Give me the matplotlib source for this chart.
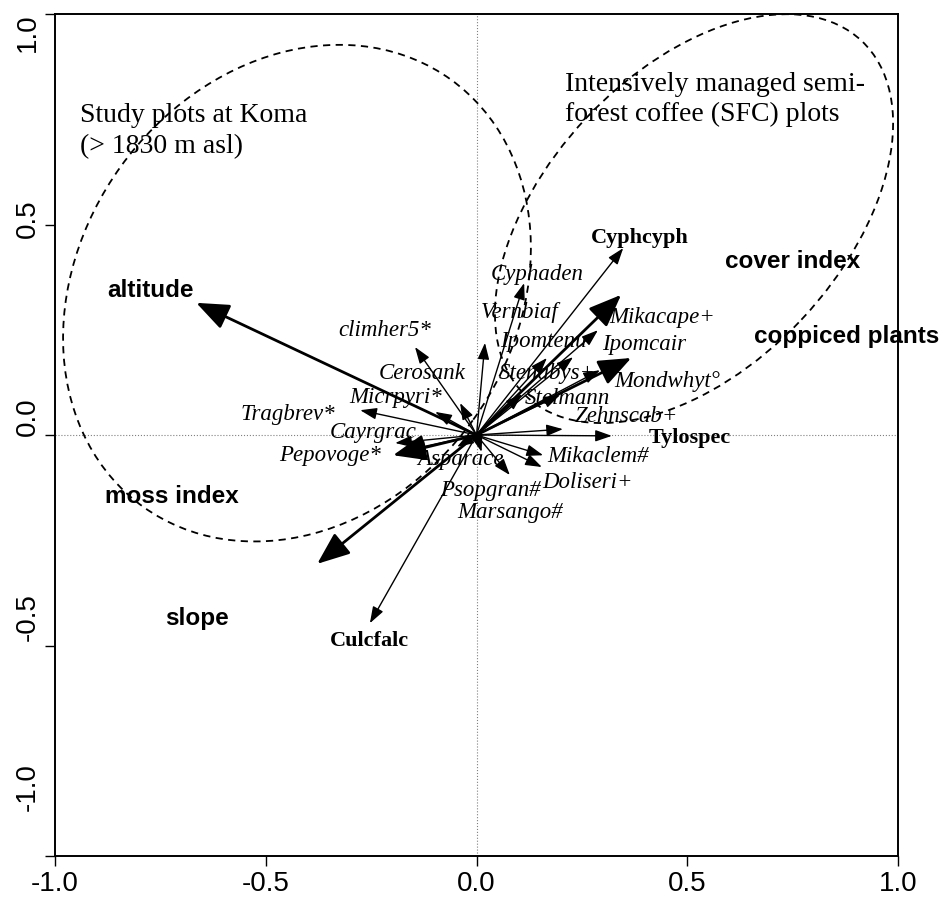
import matplotlib
matplotlib.use("Agg")
import matplotlib.pyplot as plt
from matplotlib.patches import Ellipse
from matplotlib.transforms import ScaledTranslation

# environmental variables: arrow tips and label positions
env_names = ["altitude", "cover index", "coppiced plants", "moss index", "slope"]
env_x = [-0.665, 0.343, 0.367, -0.198, -0.378]
env_y = [0.314, 0.333, 0.183, -0.048, -0.306]
env_lx = [-0.774, 0.751, 0.879, -0.722, -0.663]
env_ly = [0.344, 0.411, 0.233, -0.147, -0.435]

# species: arrow tips, label positions, bold flag
sp_names = ["Cyphcyph", "Cyphaden", "Vernbiaf", "Ipomtenu", "Stenabys+", "Stelmann",
            "Mikacape+", "Ipomcair", "Mondwhyt°", "Zehnscab+", "Tylospec", "Mikaclem#",
            "Doliseri+", "Marsango#", "Psopgran#", "Asparace", "Culcfalc", "climher5*",
            "Cerosank", "Micrpyri*", "Tragbrev*", "Cayrgrac", "Pepovoge*"]
sp_x = [0.348, 0.113, 0.020, 0.167, 0.229, 0.108, 0.288, 0.293, 0.198, 0.205, 0.321, 0.158,
        0.155, 0.079, 0.012, -0.046, -0.253, -0.146, -0.039, -0.098, -0.276, -0.193, -0.160]
sp_y = [0.444, 0.361, 0.219, 0.183, 0.185, 0.097, 0.249, 0.154, 0.095, 0.014, -0.002, -0.048,
        -0.076, -0.095, -0.040, -0.028, -0.447, 0.209, 0.076, 0.055, 0.059, -0.019, -0.035]
sp_lx = [0.388, 0.144, 0.103, 0.158, 0.167, 0.215, 0.440, 0.397, 0.452, 0.355, 0.507, 0.288,
         0.262, 0.079, 0.032, -0.039, -0.253, -0.217, -0.129, -0.193, -0.447, -0.245, -0.347]
sp_ly = [0.468, 0.382, 0.290, 0.221, 0.147, 0.086, 0.280, 0.214, 0.126, 0.043, -0.007, -0.052,
         -0.112, -0.185, -0.131, -0.059, -0.489, 0.249, 0.147, 0.090, 0.048, 0.007, -0.048]
sp_bold = ["Cyphcyph", "Tylospec", "Culcfalc"]

ticks = [-1.0, -0.5, 0.0, 0.5, 1.0]
tick_labels = ["-1.0", "-0.5", "0.0", "0.5", "1.0"]

fig = plt.figure(figsize=(9.44, 8.99), dpi=100)
ax = fig.add_axes([0.0583, 0.0478, 0.8930, 0.9366])
ax.set_xlim(-1, 1)
ax.set_ylim(-1, 1)

ax.axhline(0, color="gray", lw=0.8, ls=":", zorder=0)
ax.axvline(0, color="gray", lw=0.8, ls=":", zorder=0)

# group ellipses
ax.add_patch(Ellipse((-0.426, 0.337), 1.25, 1.03, angle=54.3, fill=False,
                     ls=(0, (4, 3)), lw=1.3, color="black"))
ax.add_patch(Ellipse((0.516, 0.514), 1.16, 0.70, angle=46.7, fill=False,
                     ls=(0, (4, 3)), lw=1.3, color="black"))

ax.text(-0.941, 0.722, "Study plots at Koma\n(> 1830 m asl)", family="Liberation Serif",
        fontsize=20, ha="left", va="center", linespacing=1.35)
ax.text(0.210, 0.797, "Intensively managed semi-\nforest coffee (SFC) plots",
        family="Liberation Serif", fontsize=20, ha="left", va="center", linespacing=1.3)

for n, x, y, lx, ly in zip(sp_names, sp_x, sp_y, sp_lx, sp_ly):
    ax.annotate("", xy=(x, y), xytext=(0, 0),
                arrowprops=dict(arrowstyle="-|>,head_length=1.0,head_width=0.35",
                                lw=1.0, color="black", shrinkA=0, shrinkB=0))
    if n in sp_bold:
        ax.text(lx, ly, n, family="Liberation Serif", fontweight="bold", fontsize=16,
                ha="center", va="center")
    else:
        ax.text(lx, ly, n, family="Liberation Serif", style="italic", fontsize=16.5,
                ha="center", va="center")

for n, x, y, lx, ly in zip(env_names, env_x, env_y, env_lx, env_ly):
    ax.annotate("", xy=(x, y), xytext=(0, 0),
                arrowprops=dict(arrowstyle="-|>,head_length=1.0,head_width=0.4",
                                lw=2.0, color="black", shrinkA=0, shrinkB=0,
                                mutation_scale=20))
    ax.text(lx, ly, n, family="Liberation Sans", fontweight="bold", fontsize=17.5,
            ha="center", va="center", clip_on=False)

ax.set_xticks(ticks)
ax.set_yticks(ticks)
ax.set_xticklabels(tick_labels, family="Liberation Sans", fontsize=20)
ax.set_yticklabels(tick_labels, family="Liberation Sans", fontsize=20,
                   rotation=90, va="center")
ax.tick_params(direction="out", length=7, width=1)
ax.tick_params(axis="x", pad=4)
ax.tick_params(axis="y", pad=3)
for s in ax.spines.values():
    s.set_linewidth(1.4)

# y labels in the original sit slightly off their ticks (pixel shifts, + = up)
y_shift = [69, 28, 18, 6, -19]
for lab, d in zip(ax.get_yticklabels(), y_shift):
    lab.set_transform(lab.get_transform() + ScaledTranslation(0, d / 100, fig.dpi_scale_trans))

fig.savefig("out.png", dpi=100)
